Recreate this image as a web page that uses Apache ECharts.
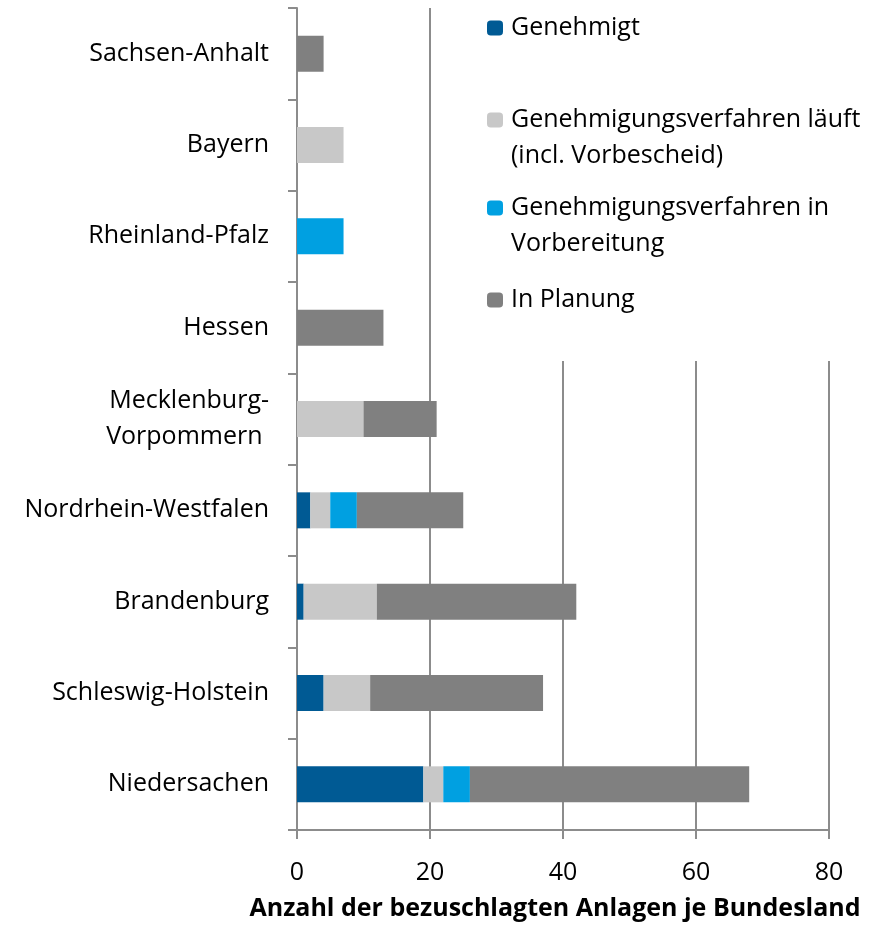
<!DOCTYPE html>
<html>
<head>
<meta charset="utf-8">
<script src="https://cdn.jsdelivr.net/npm/echarts@6/dist/echarts.min.js"></script>
<style>
  html, body { margin: 0; padding: 0; background: #fff; }
  #main { width: 883px; height: 926px; }
</style>
</head>
<body>
<div id="main"></div>
<script>
// Bundesländer, von unten nach oben
const laender = ['Niedersachen', 'Schleswig-Holstein', 'Brandenburg', 'Nordrhein-Westfalen',
  'Mecklenburg-\nVorpommern ', 'Hessen', 'Rheinland-Pfalz', 'Bayern', 'Sachsen-Anhalt'];

const genehmigt     = [19, 4, 1, 2, 0, 0, 0, 0, 0];
const verfahrenLauf = [3, 7, 11, 3, 10, 0, 0, 7, 0];
const vorbereitung  = [4, 0, 0, 4, 0, 0, 7, 0, 0];
const planung       = [42, 26, 30, 16, 11, 13, 0, 0, 4];

const xTicks = [0, 20, 40, 60, 80];

const font = 'Open Sans';
const gridGray = '#8c8c8c';

// leading blank line keeps the first line level with the legend square
const legendText = {
  'Genehmigt': 'Genehmigt',
  'Genehmigungsverfahren läuft (incl. Vorbescheid)': '\nGenehmigungsverfahren läuft\n(incl. Vorbescheid)',
  'Genehmigungsverfahren in Vorbereitung': '\nGenehmigungsverfahren in\nVorbereitung',
  'In Planung': 'In Planung'
};

function legendAt(name, top) {
  return {
    data: [name],
    orient: 'vertical',
    left: 487,
    top: top,
    padding: 0,
    itemWidth: 16,
    itemHeight: 15,
    selectedMode: false,
    formatter: function (n) { return legendText[n]; },
    textStyle: { fontFamily: font, fontSize: 25, color: '#000', lineHeight: 36, padding: [0, 0, 0, 3] }
  };
}

let myChart = echarts.init(document.getElementById('main'));
myChart.setOption({
  animation: false,
  backgroundColor: '#fff',
  textStyle: { fontFamily: font },
  grid: { left: 297, right: 54, top: 8, bottom: 94, containLabel: false },
  graphic: [{
    type: 'rect',
    z: 1,
    shape: { x: 478, y: 0, width: 405, height: 361 },
    style: { fill: '#fff' },
    silent: true
  }],
  legend: [
    legendAt('Genehmigt', 10),
    legendAt('Genehmigungsverfahren läuft (incl. Vorbescheid)', 66),
    legendAt('Genehmigungsverfahren in Vorbereitung', 154),
    legendAt('In Planung', 282)
  ],
  xAxis: {
    type: 'value',
    min: xTicks[0],
    max: xTicks[xTicks.length - 1],
    interval: 20,
    name: 'Anzahl der bezuschlagten Anlagen je Bundesland',
    nameLocation: 'middle',
    nameGap: 66,
    nameTextStyle: { fontFamily: font, fontSize: 25, fontWeight: 'bold', color: '#000', padding: [0, 16, 0, 0] },
    axisLine: { show: true, lineStyle: { color: gridGray, width: 2 } },
    axisTick: { show: true, length: 9, lineStyle: { color: gridGray, width: 2 } },
    axisLabel: { fontFamily: font, fontSize: 25, color: '#000', margin: 30 },
    splitLine: { show: true, lineStyle: { color: gridGray, width: 2 } }
  },
  yAxis: {
    type: 'category',
    data: laender,
    axisLine: { show: true, lineStyle: { color: gridGray, width: 2 } },
    axisTick: { show: true, length: 9, lineStyle: { color: gridGray, width: 2 } },
    axisLabel: { fontFamily: font, fontSize: 25, color: '#000', margin: 28, lineHeight: 36 }
  },
  series: [
    { name: 'Genehmigt', type: 'bar', stack: 'gesamt', barWidth: 36, z: 3,
      itemStyle: { color: '#005a94' }, data: genehmigt },
    { name: 'Genehmigungsverfahren läuft (incl. Vorbescheid)', type: 'bar', stack: 'gesamt', z: 3,
      itemStyle: { color: '#c8c8c8' }, data: verfahrenLauf },
    { name: 'Genehmigungsverfahren in Vorbereitung', type: 'bar', stack: 'gesamt', z: 3,
      itemStyle: { color: '#00a0e1' }, data: vorbereitung },
    { name: 'In Planung', type: 'bar', stack: 'gesamt', z: 3,
      itemStyle: { color: '#808080' }, data: planung }
  ]
});
</script>
</body>
</html>
